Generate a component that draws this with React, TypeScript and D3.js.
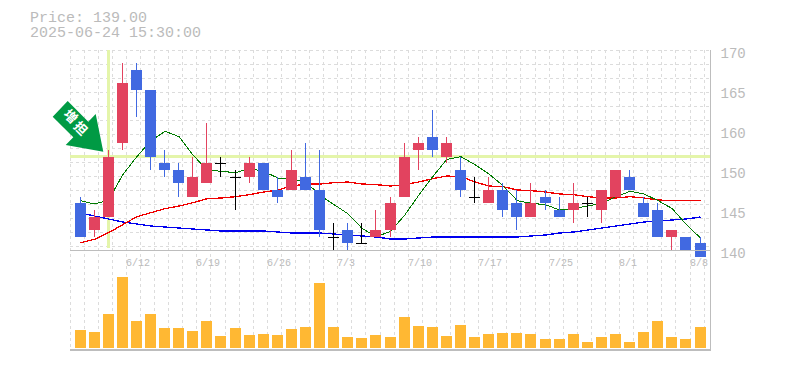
import React from "react";
import * as d3 from "d3";

const dates = ["6/6","6/9","6/10","6/11","6/12","6/13","6/16","6/17","6/18","6/19","6/20","6/23","6/24","6/25","6/26","6/27","6/30","7/1","7/2","7/3","7/4","7/7","7/8","7/9","7/10","7/11","7/14","7/15","7/16","7/17","7/18","7/22","7/23","7/24","7/25","7/28","7/29","7/30","7/31","8/1","8/4","8/5","8/6","8/7","8/8"];
const labelledDates = ["6/12","6/19","6/26","7/3","7/10","7/17","7/25","8/1","8/8"];
const opens = [147,143,145,156,167,164,153,152,148,150,153,151,151,153,149,149,151,149,142,143,141,142,143,148,155,157,154,152,148,147,149,147,145,148,146,146,147,146,148,151,147,146,142,142,141];
const highs = [148,146,155,168,168,164,155,153,154,159,154,152,154,153,151,155,156,155,144,144,144,146,148,156,157,161,157,154,151,151,150,149,150,149,148,150,148,149,152,152,148,147,143,142,142];
const lows = [142,142,145,155,160,152,151,148,148,150,151,146,150,149,147,149,149,142,140,140,141,142,142,148,152,154,153,148,147,147,145,143,145,146,145,144,145,144,148,149,145,142,140,140,139];
const closes = [142,145,154,165,164,154,152,150,151,153,153,151,153,149,148,152,149,143,142,141,141,143,147,154,156,155,156,149,148,149,146,145,147,147,145,147,147,149,152,149,145,142,143,140,139];
const volumes = [18,16,34,71,27,34,20,20,17,27,12,20,13,14,13,19,21,65,21,11,10,13,11,31,22,21,12,23,11,14,15,15,14,9,9,14,6,11,14,6,16,27,11,9,21];
const maShort = [147.4,146.9,147.5,151.3,154,156.4,157.8,157,154.2,152,151.8,151.6,152.2,151.8,150.8,150.6,150.2,148.2,146.8,145.4,143.2,142,142.8,145.2,148.2,151,153.6,154,152.8,151.4,149.6,147.4,147,146.8,146,146.2,146.6,147,148,148.8,148.4,147.4,146.2,143.8,141.8];
const maMid = [141.1,141.6,142.6,143.8,145,145.6,146.2,146.6,147.1,147.7,147.8,148,148.3,148.7,149,149.6,149.9,149.9,150.1,150.2,149.9,149.8,149.6,149.8,150.2,150.7,151.1,151,150.2,149.6,149.5,149,148.9,148.7,148.4,148.3,148,147.8,147.8,148,147.8,147.5,147.4,147.4,147.4];
const maLong = [145.55,145.1,144.65,144.2,143.9,143.6,143.45,143.3,143.15,143,142.85,142.85,142.85,142.85,142.7,142.55,142.55,142.55,142.4,142.25,142.1,141.95,141.65,141.65,141.8,141.95,141.95,141.95,141.95,141.95,141.95,141.95,142.1,142.25,142.55,142.7,143,143.3,143.6,143.9,144.2,144.35,144.5,144.65,144.95];
const axisLabels = ["170","165","160","150","145","140"];
const currentPrice = 154;
const signalDate = "6/10";
const titleLines = ["Price: 139.00", "2025-06-24 15:30:00"];
const signalText = ["増", "担"];

const RED = "#E2435F";
const BLUE = "#4169E1";
const GREEN_HL = "#E4F5AA";
const GRID = "#dcdcdc";
const FRAME = "#bdbdbd";
const TEXT = "#bbbbbb";
const MONO = "'Liberation Mono', monospace";

export default function App() {
  const left = 70, right = 710, top = 50, mid = 250, bottom = 349;
  const x = d3.scalePoint<string>().domain(dates).range([75, 695]);
  const step = x.step();
  const bodyLeft = (d: string) => Math.floor((x(d) as number) + 1e-6);
  const y = d3.scaleLinear().domain([140, 170]).range([mid, top]);
  const yPx = (v: number) => Math.round(y(v));
  const vy = d3.scaleLinear().domain([0, 100]).range([348, 248]);
  const labelY = d3.scalePoint<string>().domain(axisLabels).range([53, 253]);
  const hGrid = d3.range(0, 15).map((k) => top + 14 * k + 0.5);
  const vGrid = [...dates.map((d) => bodyLeft(d) - 5), Math.floor(75 + 45 * step) - 5];
  const lineFor = (vals: number[]) =>
    d3.line<number>().x((_, i) => (x(dates[i]) as number) + 5.5).y((v) => y(v))(vals) as string;
  const sx = (x(signalDate) as number) + 5.5;
  const arrow = [[67.7,101],[52.7,116.7],[73.3,137.3],[65.7,145],[103.3,151.7],[95.7,114],[88.3,121.7]];

  return (
    <svg width={785} height={370} style={{ position: "absolute", left: 0, top: 0, background: "#fff" }}>
      <g fontFamily={MONO} fontSize={15} fill={TEXT}>
        {titleLines.map((t, i) => (
          <text key={t} x={30} y={22 + i * 15}>{t}</text>
        ))}
      </g>
      <g stroke={GRID} strokeDasharray="3 3" shapeRendering="crispEdges">
        {vGrid.map((gx, i) => (
          <line key={i} x1={gx + 0.5} x2={gx + 0.5} y1={top} y2={bottom} />
        ))}
        {hGrid.map((gy, i) => (
          <line key={i} x1={left} x2={right} y1={gy} y2={gy} />
        ))}
      </g>
      <g fill={GREEN_HL} shapeRendering="crispEdges">
        <rect x={Math.round(sx) - 2} y={top} width={3} height={198} />
        <rect x={left} y={Math.round(y(currentPrice)) - 2} width={right - left} height={3} />
      </g>
      <g fontFamily={MONO} fontSize={10} fill={TEXT}>
        {labelledDates.map((d) => (
          <text key={d} x={bodyLeft(d) - 5} y={266}>{d}</text>
        ))}
      </g>
      <g fontFamily={MONO} fontSize={14} fill={TEXT}>
        {axisLabels.map((l) => (
          <text key={l} x={720.5} y={(labelY(l) as number) + 5}>{l}</text>
        ))}
      </g>
      <g fill="none" shapeRendering="crispEdges">
        <path d={lineFor(maLong)} stroke="#0000ee" strokeWidth={1.3} />
        <path d={lineFor(maMid)} stroke="#f00000" strokeWidth={1.3} />
        <path d={lineFor(maShort)} stroke="#007a00" strokeWidth={1} />
      </g>
      <g shapeRendering="crispEdges">
        {dates.map((d, i) => {
          const o = opens[i], c = closes[i];
          const bx = bodyLeft(d);
          const color = o === c ? "#000" : c > o ? RED : BLUE;
          const yTop = yPx(Math.max(o, c)), yBot = yPx(Math.min(o, c));
          return (
            <g key={d} fill={color}>
              <rect x={bx + 5} y={yPx(highs[i])} width={1} height={yPx(lows[i]) - yPx(highs[i])} />
              {o === c ? (
                <rect x={bx} y={yTop} width={11} height={1} />
              ) : (
                <rect x={bx} y={yTop} width={11} height={yBot - yTop} />
              )}
            </g>
          );
        })}
      </g>
      <g fill="#FFB833" shapeRendering="crispEdges">
        {dates.map((d, i) => (
          <rect key={d} x={bodyLeft(d)} y={vy(volumes[i])} width={11} height={348 - vy(volumes[i])} />
        ))}
      </g>
      <g fill={FRAME} shapeRendering="crispEdges">
        <rect x={left} y={mid} width={right - left} height={1} />
        <rect x={left} y={bottom} width={right - left + 1} height={2} />
        <rect x={right} y={top} width={1} height={bottom - top + 2} />
      </g>
      <polygon points={arrow.map((p) => p.join(",")).join(" ")} fill="#009A44" />
      <g fill="#fff" fontFamily="'Noto Sans CJK JP'" fontWeight={700} fontSize={13} textAnchor="middle">
        <text transform="translate(71,116) rotate(45)" y={5}>{signalText[0]}</text>
        <text transform="translate(81,128) rotate(45)" y={5}>{signalText[1]}</text>
      </g>
    </svg>
  );
}
